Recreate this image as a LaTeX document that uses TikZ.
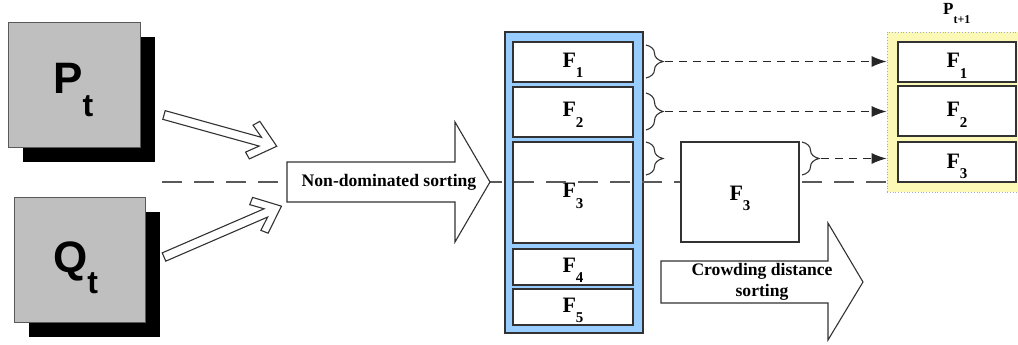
\documentclass[tikz,border=0pt]{standalone}
\usepackage{fontspec}
\setmainfont{Liberation Serif}
\newfontfamily\arialfont{Liberation Sans}
\usetikzlibrary{arrows.meta,decorations.pathreplacing}
\definecolor{boxblue}{RGB}{153,204,255}
\definecolor{paleyellow}{RGB}{252,248,182}
\definecolor{dotblue}{RGB}{160,170,210}
\definecolor{linegray}{RGB}{50,50,50}
\newcommand\Fs[1]{F\raisebox{-10.5pt}{\fontsize{15}{15}\selectfont #1}}
\newcommand\hollowArrow[3]{%
  \begin{scope}[shift={#1},rotate=#2]
    \draw[hollow] (0,4.5) -- ({#3-17},4.5) -- ({#3-28.5},14) -- ({#3-23},19.5) -- (#3,0)
      -- ({#3-23},-19.5) -- ({#3-28.5},-14) -- ({#3-17},-4.5) -- (0,-4.5) -- cycle;
  \end{scope}}
\begin{document}
\begin{tikzpicture}[x=1pt,y=-1pt,
  line/.style={draw=linegray, line width=1.1pt},
  fbox/.style={line, fill=white, inner sep=0pt},
  hollow/.style={draw=linegray, line width=1.1pt, fill=white, line join=miter},
  shadowsq/.style={fill=black, draw=none},
  graysq/.style={draw=black!65, line width=0.8pt, fill=black!25, minimum width=132pt, minimum height=125pt, inner sep=0pt},
  bigdash/.style={draw=black!65, line width=1.1pt, dash pattern=on 20pt off 12pt},
  smalldash/.style={draw=black!85, line width=1.1pt, dash pattern=on 8pt off 6pt, -{Latex[length=15pt,width=11pt]}},
  brc/.style={draw=linegray, line width=1.1pt, decorate, decoration={brace, amplitude=17pt}},
  ftext/.style={font=\bfseries\fontsize{22}{22}\selectfont, anchor=base, inner sep=0pt},
  blocktext/.style={font=\bfseries\fontsize{17.6}{21}\selectfont, align=center, inner sep=0pt},
  bigletter/.style={font=\arialfont\bfseries\fontsize{44}{44}\selectfont, anchor=base west, inner sep=0pt},
]
\useasboundingbox (0,0) rectangle (1018,345);

% P_t and Q_t squares
\fill[shadowsq] (23,37) rectangle (155,162);
\node[graysq] (pt) at (74,84.5) {};
\node[bigletter] at (53,94) {P\raisebox{-22pt}{\fontsize{32}{32}\selectfont t}};
\fill[shadowsq] (29,212) rectangle (160,337);
\node[graysq, minimum width=131pt] (qt) at (79.5,259.5) {};
\node[bigletter] at (53,272) {Q\raisebox{-21pt}{\fontsize{32}{32}\selectfont t}};

% blue column
\node[draw=linegray, line width=1.5pt, fill=boxblue, minimum width=138pt, minimum height=301pt, inner sep=0pt] (col) at (574,182.5) {};
\node[fbox, minimum width=120pt, minimum height=40pt] (f1) at (573,62) {};
\node[fbox, minimum width=120pt, minimum height=50pt] (f2) at (573,112) {};
\node[fbox, minimum width=120pt, minimum height=101pt] (f3) at (573,192.5) {};
\node[fbox, minimum width=120pt, minimum height=36pt] (f4) at (573,267) {};
\node[fbox, minimum width=120pt, minimum height=36pt] (f5) at (573,307) {};
\node[ftext] at ([yshift=-5pt]f1.center) {\Fs{1}};
\node[ftext] at ([yshift=-5pt]f2.center) {\Fs{2}};
\node[ftext] at ([yshift=-5pt]f3.center) {\Fs{3}};
\node[ftext] at ([yshift=-5pt]f4.center) {\Fs{4}};
\node[ftext] at ([yshift=-5pt]f5.center) {\Fs{5}};

% long dashed line
\coordinate (dl) at (162,182);
\coordinate (dr) at (888,182);
\draw[bigdash] (dl) -- (dr);

% hollow arrows
\coordinate (pa) at (164,115);
\coordinate (qa) at (164,257);
\hollowArrow{(pa)}{-15.5}{117}
\hollowArrow{(qa)}{23.4}{128}

% Non-dominated sorting block arrow
\draw[line, fill=white, line join=miter] (287,162) -- (455,162) -- (455,122) -- (490,182) -- (455,242) -- (455,202) -- (287,202) -- cycle;
\node[blocktext] (nds) at (389,182) {Non-dominated sorting};

% middle F3 box
\node[fbox, minimum width=118pt, minimum height=100pt] (m3) at (740,192) {};
\node[ftext] at ([yshift=-8pt]m3.center) {\Fs{3}};

% Crowding distance block arrow
\draw[line, fill=white, line join=miter] (661,261) -- (828,261) -- (828,223) -- (863,282) -- (828,340) -- (828,303) -- (661,303) -- cycle;
\node[blocktext] (cds) at (762,282) {Crowding distance\\sorting};

% yellow P_{t+1}
\node[draw=dotblue, dotted, line width=0.8pt, fill=paleyellow, minimum width=133pt, minimum height=160pt, inner sep=0pt] (yel) at (953.5,112) {};
\node[fbox, minimum width=118pt, minimum height=40pt] (y1) at (957,62) {};
\node[fbox, minimum width=118pt, minimum height=50pt] (y2) at (957,111) {};
\node[fbox, minimum width=118pt, minimum height=40pt] (y3) at (957,162) {};
\node[ftext] at ([yshift=-6pt]y1.center) {\Fs{1}};
\node[ftext] at ([yshift=-6pt]y2.center) {\Fs{2}};
\node[ftext] at ([yshift=-6pt]y3.center) {\Fs{3}};
\node[font=\bfseries\fontsize{17}{17}\selectfont, anchor=base west, inner sep=0pt] (plabel) at (943,15) {P\raisebox{-9pt}{\fontsize{12}{12}\selectfont t+1}};

% braces
\draw[brc] (646,45) -- (646,78);
\draw[brc] (646,93) -- (646,130);
\draw[brc] (646,142) -- (646,175);
\draw[brc] (802,142) -- (802,175);
\coordinate (b1) at (665,61.5);
\coordinate (b2) at (665,111.5);
\coordinate (b3) at (821,158.5);

% dashed arrows
\draw[smalldash] (b1) -- (b1 -| yel.west);
\draw[smalldash] (b2) -- (b2 -| yel.west);
\draw[smalldash] (b3) -- (b3 -| yel.west);
\end{tikzpicture}
\end{document}
